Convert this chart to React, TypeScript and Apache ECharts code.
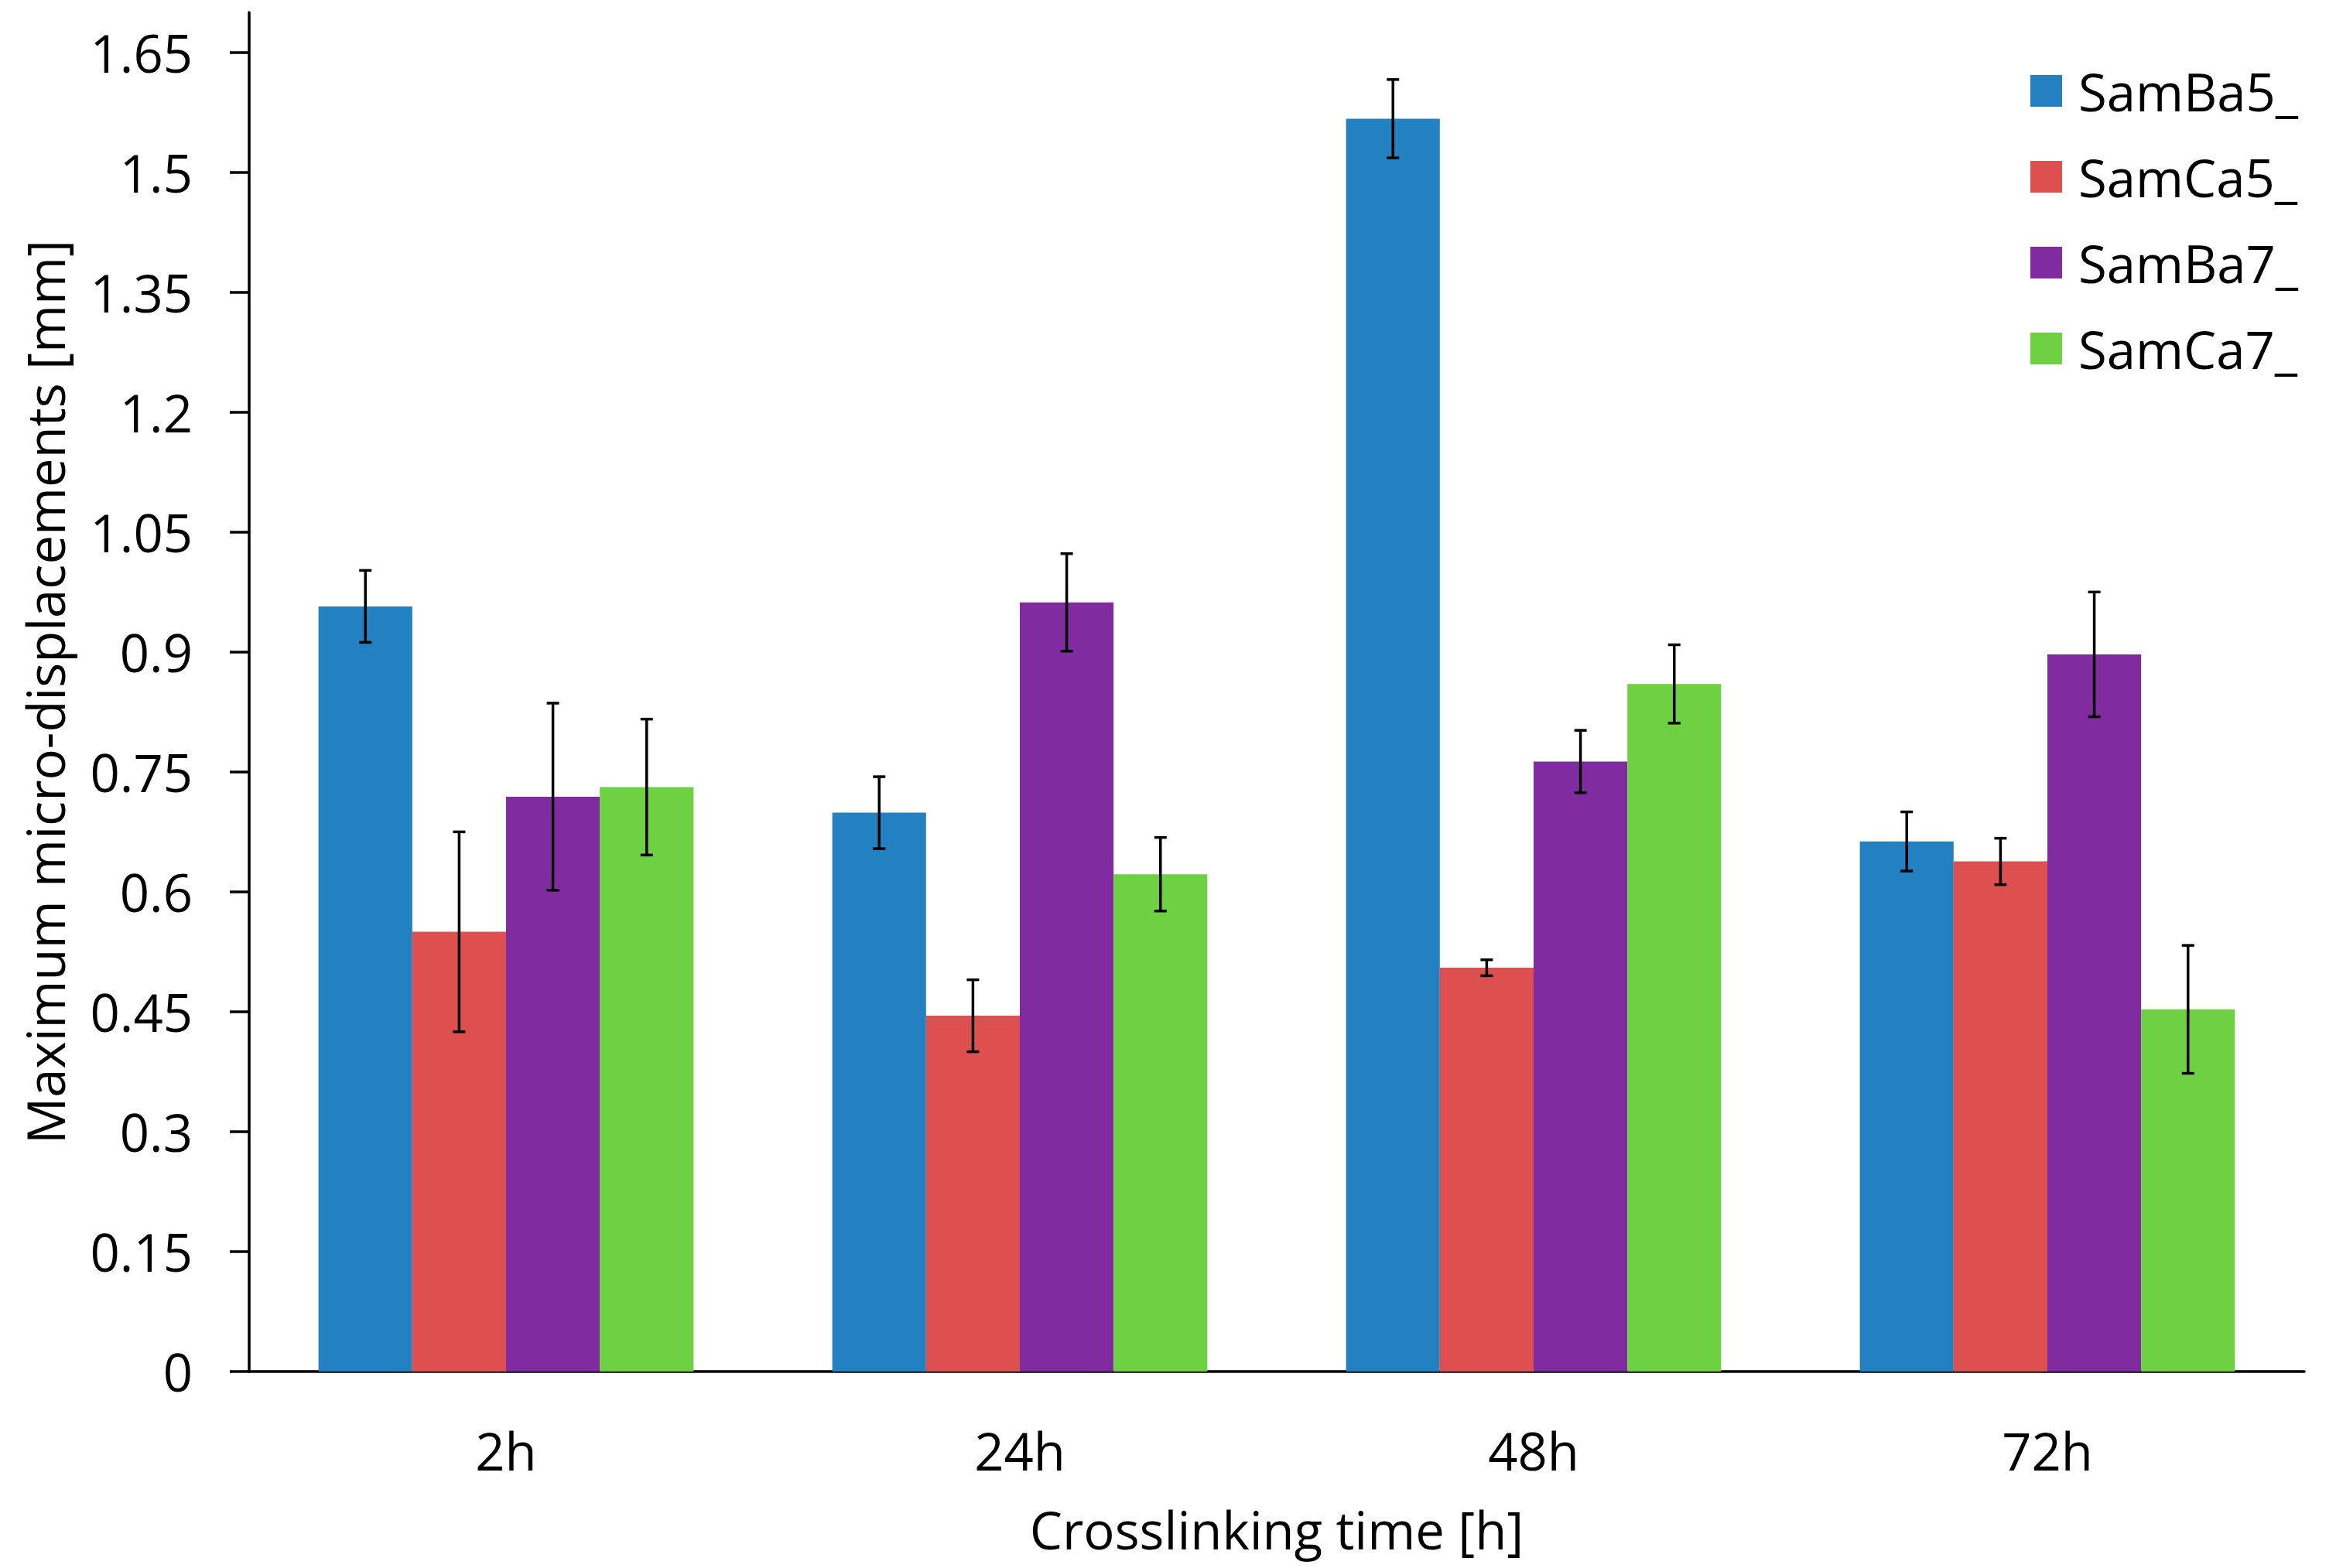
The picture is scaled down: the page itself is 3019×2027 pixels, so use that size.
import React, { useEffect, useRef } from "react";
import * as echarts from "echarts";

const categories = ["2h", "24h", "48h", "72h"];
const seriesNames = ["SamBa5_", "SamCa5_", "SamBa7_", "SamCa7_"];
const seriesColors = ["#2481C1", "#DE504F", "#812BA1", "#6DD143"];

const samBa5 = [0.957, 0.699, 1.567, 0.663];
const samCa5 = [0.55, 0.445, 0.505, 0.638];
const samBa7 = [0.719, 0.962, 0.763, 0.897];
const samCa7 = [0.731, 0.622, 0.86, 0.453];

const samBa5Err = [0.045, 0.045, 0.049, 0.037];
const samCa5Err = [0.125, 0.045, 0.01, 0.029];
const samBa7Err = [0.117, 0.061, 0.039, 0.078];
const samCa7Err = [0.085, 0.046, 0.049, 0.08];

const yTickValues = [0, 0.15, 0.3, 0.45, 0.6, 0.75, 0.9, 1.05, 1.2, 1.35, 1.5, 1.65];
const yMax = 1.7;

const FONT = "'Open Sans', 'Noto Sans', sans-serif";
const FS = 67;

export default function App() {
  const ref = useRef<HTMLDivElement>(null);

  useEffect(() => {
    if (!ref.current) return;
    document.body.style.margin = "0";
    const chart = echarts.init(ref.current, null, { renderer: "svg" });

    const values = [samBa5, samCa5, samBa7, samCa7];
    const errs = [samBa5Err, samCa5Err, samBa7Err, samCa7Err];
    const catGap = 0.27;

    const errData: number[][] = [];
    values.forEach((vals, s) => {
      vals.forEach((v, c) => {
        errData.push([c, v, errs[s][c], s]);
      });
    });

    const barSeries = seriesNames.map((name, i) => ({
      name,
      type: "bar",
      data: values[i],
      barGap: "0%",
      barCategoryGap: "27%",
      itemStyle: { color: seriesColors[i] },
    }));

    const axisLineStyle = { color: "#000", width: 3.5 };

    chart.setOption({
      animation: false,
      backgroundColor: "#fff",
      textStyle: { fontFamily: FONT },
      grid: { left: 322, right: 41, top: 16, bottom: 254, containLabel: false },
      legend: {
        data: seriesNames,
        orient: "vertical",
        left: 2619,
        top: 79,
        itemWidth: 41,
        itemHeight: 41,
        itemGap: 44,
        icon: "rect",
        textStyle: { fontSize: FS, fontFamily: FONT, color: "#000", padding: [0, 0, 0, 16] },
      },
      xAxis: {
        type: "category",
        data: categories,
        axisLine: { show: true, lineStyle: axisLineStyle },
        axisTick: { show: false },
        axisLabel: { margin: 68, fontSize: FS, fontFamily: FONT, color: "#000" },
        splitLine: { show: false },
        name: "Crosslinking time [h]",
        nameLocation: "middle",
        nameGap: 170,
        nameTextStyle: { fontSize: FS, fontFamily: FONT, color: "#000" },
      },
      yAxis: {
        type: "value",
        min: 0,
        max: yMax,
        axisLine: { show: true, lineStyle: axisLineStyle },
        axisTick: {
          show: true,
          inside: false,
          length: 25,
          lineStyle: axisLineStyle,
          customValues: yTickValues,
        },
        axisLabel: {
          margin: 73,
          fontSize: FS,
          fontFamily: FONT,
          color: "#000",
          customValues: yTickValues,
          formatter: (v: number) => String(v),
        },
        splitLine: { show: false },
        name: "Maximum micro-displacements [mm]",
        nameLocation: "middle",
        nameGap: 231,
        nameRotate: 90,
        nameTextStyle: { fontSize: FS, fontFamily: FONT, color: "#000" },
      },
      series: [
        ...barSeries,
        {
          name: "errors",
          type: "custom",
          data: errData,
          encode: { x: 0, y: 1 },
          z: 10,
          silent: true,
          renderItem: (params: any, api: any) => {
            const c = api.value(0);
            const v = api.value(1);
            const e = api.value(2);
            const s = api.value(3);
            const band = api.size([1, 0])[0];
            const bw = (band * (1 - catGap)) / 4;
            const x = api.coord([c, 0])[0] + (s - 1.5) * bw;
            const yTop = api.coord([c, v + e])[1];
            const yBot = api.coord([c, v - e])[1];
            const cap = 8;
            const style = { stroke: "#000", lineWidth: 3.5 };
            return {
              type: "group",
              children: [
                { type: "line", shape: { x1: x, y1: yTop, x2: x, y2: yBot }, style },
                { type: "line", shape: { x1: x - cap, y1: yTop, x2: x + cap, y2: yTop }, style },
                { type: "line", shape: { x1: x - cap, y1: yBot, x2: x + cap, y2: yBot }, style },
              ],
            };
          },
        },
      ],
    });

    return () => chart.dispose();
  }, []);

  return (
    <div
      ref={ref}
      style={{ position: "absolute", left: 0, top: 0, width: 3019, height: 2027 }}
    />
  );
}
